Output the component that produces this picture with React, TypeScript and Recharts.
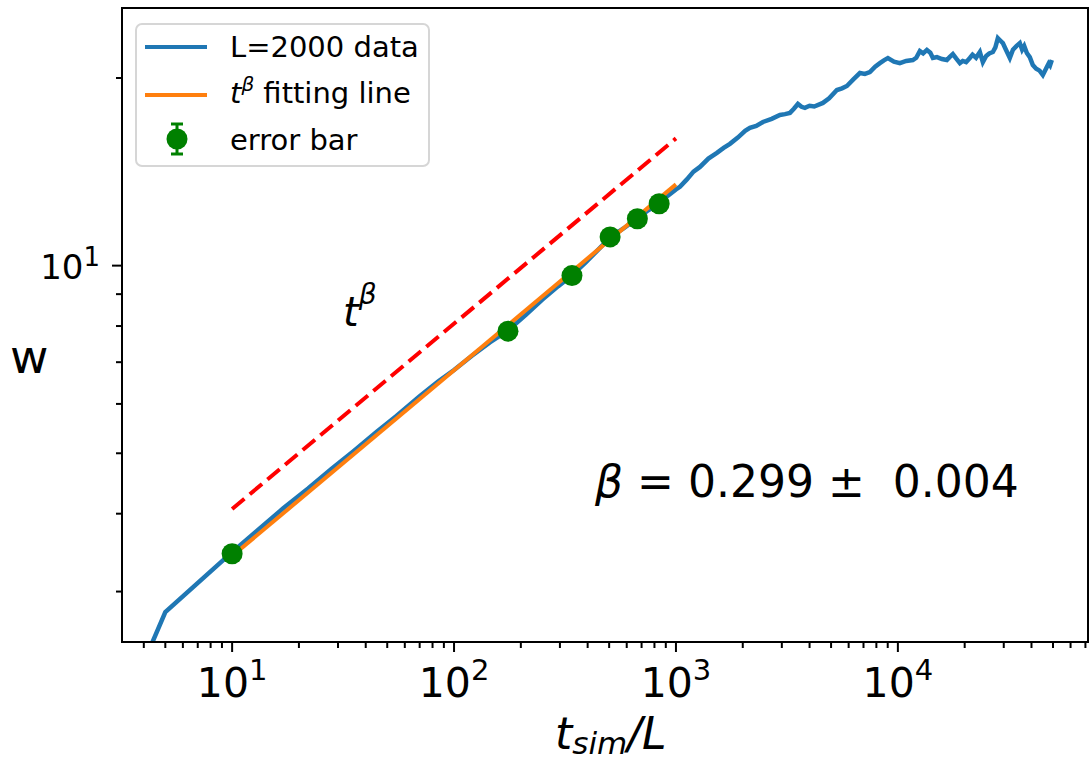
import React from 'react';
import { ComposedChart, Line, Scatter, XAxis, YAxis } from 'recharts';

// L=2000 roughness data (t_sim/L, w)
const blueT = [
  4, 5, 10, 13, 17, 22, 28, 35, 45, 55, 70, 85, 100, 120, 145, 175, 210, 250, 295, 340,
  390, 440, 505, 580, 670, 750, 840, 920, 1000, 1042, 1120, 1200, 1283, 1400, 1530, 1640,
  1751, 1900, 2050, 2154, 2300, 2466, 2700, 2941, 3100, 3263, 3400, 3544, 3680, 3811, 4000,
  4200, 4594, 4900, 5312, 5600, 5893, 6300, 6743, 7100, 7479, 7900, 8297, 8650, 9016, 9600,
  10210, 10900, 11680, 12100, 12560, 13000, 13510, 14000, 14380, 15000, 15800, 16620, 17100,
  17690, 18300, 19030, 19600, 20300, 21100, 21700, 22500, 23410, 24150, 25000, 25800, 26790,
  27500, 28220, 29000, 29720, 30500, 31950, 33000, 34200, 35440, 36300, 37100, 38120, 39300,
  40560, 42000, 43500, 45000, 45900, 46910, 47800, 48500, 49400,
];
const blueW = [
  2.31, 2.78, 3.47, 3.76, 4.08, 4.39, 4.72, 5.03, 5.42, 5.74, 6.17, 6.52, 6.8, 7.16, 7.53, 7.87,
  8.33, 8.82, 9.27, 9.65, 10.1, 10.55, 11.1, 11.47, 11.9, 12.27, 12.58, 12.95, 13.25, 13.38,
  13.75, 14.15, 14.4, 14.85, 15.17, 15.45, 15.68, 16.05, 16.45, 16.63, 16.75, 17.0, 17.2, 17.45,
  17.5, 17.58, 17.85, 18.17, 17.98, 17.91, 18.05, 18.0, 18.24, 18.55, 19.13, 19.25, 19.42, 19.9,
  20.37, 20.3, 20.44, 20.85, 21.13, 21.35, 21.53, 21.25, 21.13, 21.3, 21.37, 21.55, 22.09, 21.9,
  22.18, 21.95, 21.53, 21.6, 21.45, 21.37, 21.6, 21.85, 21.5, 21.13, 21.3, 21.2, 21.53, 21.8,
  21.55, 22.01, 21.21, 21.7, 21.9, 22.01, 22.4, 23.17, 22.95, 22.75, 22.3, 21.53, 22.2, 22.5,
  22.75, 22.2, 22.5, 21.93, 21.6, 20.98, 20.7, 20.55, 20.22, 20.5, 20.83, 21.1, 20.95, 21.37,
];

// t^beta fit and shifted guide line
const fitT = [10, 1000];
const fitW = [3.42, 13.5];
const guideT = [10, 1000];
const guideW = [4.07, 16.0];

// error bar points
const errT = [10, 175, 340, 505, 670, 840];
const errW = [3.45, 7.85, 9.64, 11.12, 11.89, 12.57];

const xMajor = [10, 100, 1000, 10000];
const xMinor = [4, 5, 6, 7, 8, 9, 20, 30, 40, 50, 60, 70, 80, 90, 200, 300, 400, 500, 600, 700,
  800, 900, 2000, 3000, 4000, 5000, 6000, 7000, 8000, 9000, 20000, 30000, 40000, 50000, 60000, 70000];
const yMajor = [10];
const yMinor = [3, 4, 5, 6, 7, 8, 9, 20];

const xDomain = [3.19, 71900];
const yDomain = [2.49, 25.9];

const FONT = 'DejaVu Sans';
const BLUE = '#1f77b4';
const ORANGE = '#ff7f0e';
const GREEN = '#008000';

const blueData = blueT.map((t, i) => ({ t, w: blueW[i] }));
const fitData = fitT.map((t, i) => ({ t, w: fitW[i] }));
const guideData = guideT.map((t, i) => ({ t, w: guideW[i] }));
const errData = errT.map((t, i) => ({ t, w: errW[i] }));

const XTick = (props: any) => {
  const { x, y, payload } = props;
  const v = payload.value;
  const major = xMajor.includes(v);
  return (
    <g>
      <line x1={x} x2={x} y1={y} y2={y + (major ? 10 : 6)} stroke="#000" strokeWidth={2} />
      {major && (
        <text x={x} y={y + 55} textAnchor="middle" fontSize={41} fill="#000" fontFamily={FONT}>
          10<tspan fontSize={29} dy={-17}>{Math.round(Math.log10(v))}</tspan>
        </text>
      )}
    </g>
  );
};

const YTick = (props: any) => {
  const { x, y, payload } = props;
  const v = payload.value;
  const major = yMajor.includes(v);
  return (
    <g>
      <line x1={x} x2={x - (major ? 10 : 6)} y1={y} y2={y} stroke="#000" strokeWidth={2} />
      {major && (
        <text x={x - 22} y={y + 13} textAnchor="end" fontSize={34} fill="#000" fontFamily={FONT}>
          10<tspan fontSize={26} dy={-13}>{Math.round(Math.log10(v))}</tspan>
        </text>
      )}
    </g>
  );
};

const Dot = (props: any) => <circle cx={props.cx} cy={props.cy} r={10.5} fill={GREEN} />;

const LegendBox = () => (
  <div
    style={{
      position: 'absolute', left: 135, top: 23, width: 295, height: 144, boxSizing: 'border-box',
      border: '2px solid #d6d6d6', borderRadius: 7, background: 'rgba(255,255,255,0.8)',
    }}
  >
    <svg width={291} height={140} style={{ display: 'block' }} fontFamily={FONT} fontSize={29}>
      <line x1={8} x2={70} y1={22} y2={22} stroke={BLUE} strokeWidth={4} />
      <text x={93} y={32} fill="#000">L=2000 data</text>
      <line x1={8} x2={70} y1={70} y2={70} stroke={ORANGE} strokeWidth={4} />
      <text x={93} y={78} fill="#000" style={{ whiteSpace: 'pre' }} xmlSpace="preserve">
        <tspan fontStyle="italic">t</tspan>
        <tspan fontStyle="italic" fontSize={20} dy={-12}>β</tspan>
        <tspan dy={12}> fitting line</tspan>
      </text>
      <line x1={40} x2={40} y1={99} y2={129} stroke={GREEN} strokeWidth={3} />
      <line x1={34} x2={46} y1={99} y2={99} stroke={GREEN} strokeWidth={3} />
      <line x1={34} x2={46} y1={129} y2={129} stroke={GREEN} strokeWidth={3} />
      <circle cx={40} cy={114} r={10.5} fill={GREEN} />
      <text x={93} y={125} fill="#000">error bar</text>
    </svg>
  </div>
);

export default function App() {
  return (
    <div style={{ position: 'absolute', left: 0, top: 0, width: 1092, height: 761, background: '#fff' }}>
      <ComposedChart width={1092} height={761} margin={{ top: 8, right: 4, bottom: 0, left: 0 }}>
        <XAxis
          dataKey="t"
          type="number"
          scale="log"
          domain={xDomain}
          allowDataOverflow
          ticks={[...xMajor, ...xMinor]}
          interval={0}
          tick={<XTick />}
          tickLine={false}
          tickSize={0}
          tickMargin={0}
          axisLine={false}
          height={119}
        />
        <YAxis
          dataKey="w"
          type="number"
          scale="log"
          domain={yDomain}
          allowDataOverflow
          ticks={[...yMajor, ...yMinor]}
          interval={0}
          tick={<YTick />}
          tickLine={false}
          tickSize={0}
          tickMargin={0}
          axisLine={false}
          width={122}
        />
        <Line data={blueData} dataKey="w" stroke={BLUE} strokeWidth={4.5} dot={false} type="linear" isAnimationActive={false} />
        <Line data={fitData} dataKey="w" stroke={ORANGE} strokeWidth={4} dot={false} type="linear" isAnimationActive={false} />
        <Scatter data={errData} dataKey="w" shape={<Dot />} isAnimationActive={false} />
        <Line data={guideData} dataKey="w" stroke="#ff0000" strokeWidth={4} strokeDasharray="16 7" dot={false} type="linear" isAnimationActive={false} />
      </ComposedChart>
      <svg width={1092} height={761} style={{ position: 'absolute', left: 0, top: 0, pointerEvents: 'none' }} fontFamily={FONT}>
        <rect x={122} y={8} width={966} height={634} fill="none" stroke="#000" strokeWidth={2} />
        <text x={555} y={749} fontSize={44} fontStyle="italic" fill="#000">
          t<tspan fontSize={31} dy={5}>sim</tspan><tspan fontSize={44} dy={-5}>/L</tspan>
        </text>
        <text x={10} y={373} fontSize={47} fill="#000">w</text>
        <text x={343} y={326} fontSize={40} fill="#000">
          <tspan fontStyle="italic">t</tspan>
          <tspan fontStyle="italic" fontSize={28} dy={-22}>β</tspan>
        </text>
        <text x={595} y={497} fontSize={44} fill="#000" style={{ whiteSpace: 'pre' }} xmlSpace="preserve">
          <tspan fontStyle="italic">β</tspan><tspan> = 0.299 ±  0.004</tspan>
        </text>
      </svg>
      <LegendBox />
    </div>
  );
}
